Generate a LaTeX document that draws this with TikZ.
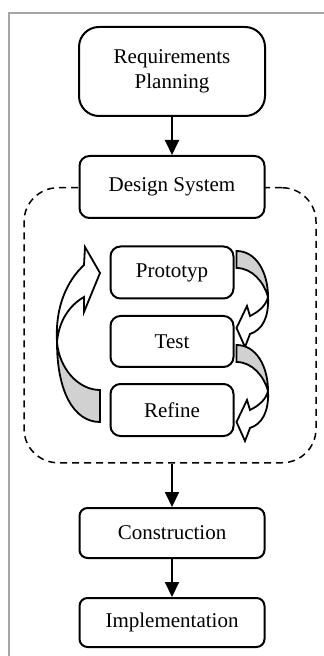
\documentclass[tikz,border=0pt]{standalone}
\usepackage{fontspec}
\setmainfont{Liberation Serif}
\usetikzlibrary{arrows, arrows.meta, shapes, positioning, backgrounds}

\definecolor{framegray}{gray}{0.65}
\definecolor{backgray}{gray}{0.82}

\tikzset{
	phase/.style={draw, line width=1pt, fill=white, text centered, inner sep=2pt},
	flow/.style={-{Triangle[length=7.5pt,width=7pt]}, line width=1pt},
	curl/.style={draw, line width=0.9pt, line join=miter},
}

\begin{document}
\begin{tikzpicture}[x=0.5pt, y=-0.5pt, font=\fontsize{10.5}{12.5}\selectfont]
	\useasboundingbox (0,0) rectangle (324,656);
	\draw[framegray, line width=1pt] (9,656) -- (9,13) -- (324,13);

	     % nodes %
		 \node[phase, rounded corners=10pt, minimum width=93pt, minimum height=44.5pt, align=center] (req) at (172,71.5) {Requirements\\Planning};
		 \node[phase, below of = req, node distance=57.75pt, rounded corners=5pt, minimum width=92.5pt, minimum height=31pt] (design) {Design System};
		 \node[phase, below of = design, node distance=42.75pt, rounded corners=5pt, minimum width=61.5pt, minimum height=26pt] (proto) {Prototyp};
		 \node[phase, below of = proto, node distance=34.5pt, rounded corners=5pt, minimum width=61.5pt, minimum height=25.5pt] (test) {Test};
		 \node[phase, below of = test, node distance=34.25pt, rounded corners=5pt, minimum width=61.5pt, minimum height=26pt] (refine) {Refine};
		 \node[phase, below of = refine, node distance=61.5pt, rounded corners=4pt, minimum width=92.5pt, minimum height=25pt] (constr) {Construction};
		 \node[phase, below of = constr, node distance=44.75pt, rounded corners=4pt, minimum width=92.5pt, minimum height=24.5pt] (impl) {Implementation};
		 \begin{pgfonlayer}{background}
		 \node[draw, dash pattern=on 3.5pt off 2.5pt, line width=0.75pt, rounded corners=17pt, minimum width=146pt, minimum height=137.5pt, anchor=north] (rad) at ([xshift=-1pt]design.center) {};
		 \end{pgfonlayer}

		 % edges %
		 \draw[flow] (req) -- (design);
		 \draw[flow] (rad.south -| constr) -- (constr);
		 \draw[flow] (constr) -- (impl);

		 % curved arrows %
		 \fill[curl, fill=backgray] (100,422) .. controls (74,422) and (57,392) .. (57,342) .. controls (59,368) and (78,390) .. (100,390) -- cycle;
		 \fill[curl, fill=white] (57,342) .. controls (55,305) and (68,280) .. (84,265) -- (85,247) -- (100,273) -- (84,312) -- (84,297) .. controls (70,305) and (59,320) .. (57,342) -- cycle;
		 \foreach \dy in {0,94}{
			 \begin{scope}[yshift=-\dy*0.5pt]
			 \fill[curl, fill=backgray] (236.5,251) .. controls (256,251) and (268,272) .. (268,297) .. controls (264,282) and (252,268) .. (236.5,268) -- cycle;
			 \fill[curl, fill=white] (268,297) .. controls (269,318) and (262,330) .. (250,334) -- (245,347) -- (236.5,328) -- (247,306) -- (250,316) .. controls (258,312) and (266,306) .. (268,297) -- cycle;
			 \end{scope}
		 }
\end{tikzpicture}
\end{document}
